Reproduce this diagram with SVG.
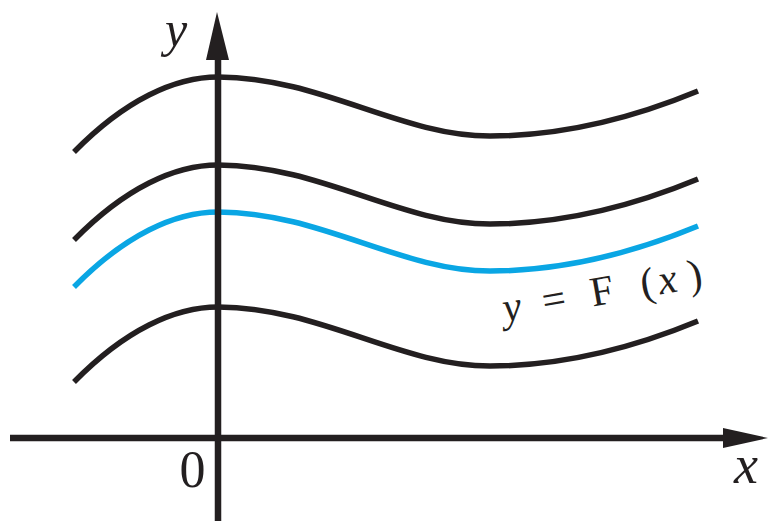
<svg xmlns="http://www.w3.org/2000/svg" xmlns:xlink="http://www.w3.org/1999/xlink" width="770" height="521" viewBox="0 0 770 521">
<style>
.crv{fill:none;stroke-width:5.5;stroke-linecap:butt}
.blk{stroke:#231f20}
.blu{stroke:#0aa6e4}
.ax{stroke:#231f20;stroke-width:6.5;fill:none}
.i{font-style:italic}
</style>
<defs>
<path id="wave" d="M74,152 C125,100 175,77 218,77 C320,77 400,136 490,136 C570,136 640,115 698,91"/>
</defs>
<rect width="770" height="521" fill="#ffffff"/>
<g id="curves">
<use xlink:href="#wave" class="crv blk"/>
<use xlink:href="#wave" class="crv blk" transform="translate(0,88)"/>
<use xlink:href="#wave" class="crv blu" transform="translate(0,135)"/>
<use xlink:href="#wave" class="crv blk" transform="translate(0,230)"/>
</g>
<g id="axes">
<line class="ax" x1="218" y1="521" x2="218" y2="55"/>
<polygon points="217,12 206,60 229,60" fill="#231f20"/>
<line class="ax" x1="10" y1="438" x2="728" y2="438"/>
<polygon points="768,438 723,428 723,448" fill="#231f20"/>
</g>
<g id="labels" fill="#231f20" font-family="'Liberation Serif', 'Times New Roman', serif">
<text class="i" x="165" y="46" font-size="50">y</text>
<text x="192.5" y="487" font-size="52" text-anchor="middle">0</text>
<text class="i" x="746" y="483" font-size="54" text-anchor="middle">x</text>
<text font-size="42" transform="translate(505,322) rotate(-10)"><tspan class="i" x="0">y</tspan><tspan x="40">=</tspan><tspan x="89">F</tspan><tspan x="140">(</tspan><tspan class="i" x="158">x</tspan><tspan x="188">)</tspan></text>
</g>
</svg>
